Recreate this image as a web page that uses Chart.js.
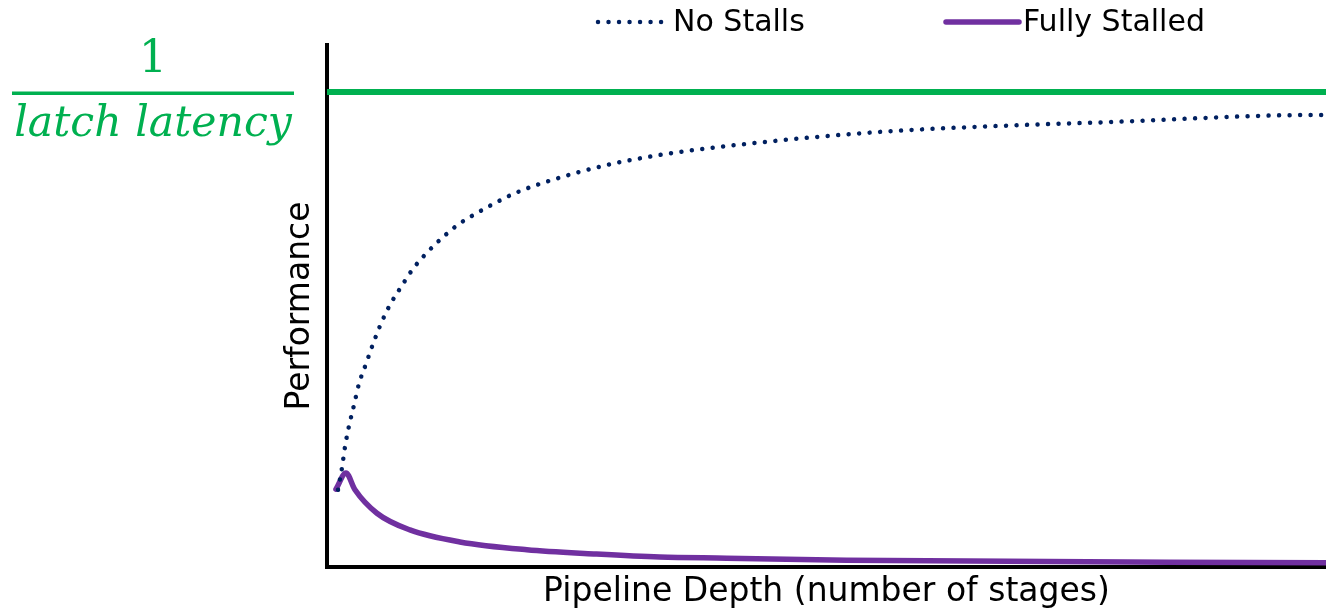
<!DOCTYPE html>
<html>
<head>
<meta charset="utf-8">
<script src="https://cdn.jsdelivr.net/npm/chart.js@4.4.1/dist/chart.umd.min.js"></script>
<style>
  html, body { margin: 0; padding: 0; background: #fff; }
  #wrap { width: 1326px; height: 616px; }
</style>
</head>
<body>
<div id="wrap"><canvas id="perfChart"></canvas></div>
<script>
// values (depth 0..100, performance 0..100)
const noStallDepth = [1.1, 1.5, 1.8, 2.2, 2.7, 3.2, 3.9, 4.6, 5.4, 6.3, 7.4, 8.6, 10.0, 11.5, 13.2, 15.0, 16.8, 18.8, 22.8, 28.0, 33.2, 38.5, 43.7, 49.1, 56.5, 67.3, 77.8, 99.1, 100];
const noStallPerf = [14.8, 19.0, 23.0, 27.0, 31.0, 35.1, 38.9, 42.7, 46.6, 50.2, 53.6, 57.1, 60.2, 63.0, 65.7, 67.8, 69.7, 71.6, 74.3, 77.0, 78.9, 80.3, 81.4, 82.4, 83.5, 84.5, 85.2, 86.6, 86.6];

const stalledDepth = [0.9, 1.9, 2.8, 5.0, 8.3, 13.3, 20.0, 26.7, 33.3, 40.0, 52.0, 100];
const stalledPerf = [14.9, 18.0, 14.8, 10.3, 7.1, 4.8, 3.3, 2.5, 1.9, 1.7, 1.3, 0.8];

const limitDepth = [0, 100];
const limitPerf = [91, 91];

const seriesNames = ['No Stalls', 'Fully Stalled'];

const toPoints = (xs, ys) => xs.map((x, i) => ({ x: x, y: ys[i] }));

const NAVY = '#002060';
const PURPLE = '#7030A0';
const GREEN = '#00B050';
const SANS = '"DejaVu Sans", sans-serif';

// shrink/grow a font so the text fills a given width
function fitFont(ctx, text, style, family, width) {
    ctx.font = style + ' 40px ' + family;
    const size = 40 * width / ctx.measureText(text).width;
    return style + ' ' + size.toFixed(1) + 'px ' + family;
}

// legend and the 1/latch latency label
const extras = {
    id: 'extras',
    afterDraw(chart) {
        const ctx = chart.ctx;
        ctx.save();

        // legend
        const y = 22;
        ctx.lineCap = 'round';
        ctx.strokeStyle = NAVY;
        ctx.lineWidth = 4.5;
        ctx.setLineDash([0.01, 10.5]);
        ctx.beginPath();
        ctx.moveTo(598, y);
        ctx.lineTo(664, y);
        ctx.stroke();
        ctx.setLineDash([]);
        ctx.strokeStyle = PURPLE;
        ctx.lineWidth = 5.5;
        ctx.beginPath();
        ctx.moveTo(946, y);
        ctx.lineTo(1019, y);
        ctx.stroke();

        ctx.fillStyle = '#000';
        ctx.textBaseline = 'middle';
        ctx.textAlign = 'left';
        ctx.font = fitFont(ctx, seriesNames[0], 'normal', SANS, 132);
        ctx.fillText(seriesNames[0], 673, y + 1);
        ctx.font = fitFont(ctx, seriesNames[1], 'normal', SANS, 182);
        ctx.fillText(seriesNames[1], 1023, y + 1);

        // fraction
        ctx.fillStyle = GREEN;
        ctx.textAlign = 'center';
        ctx.textBaseline = 'alphabetic';
        ctx.font = '44px "DejaVu Serif", serif';
        ctx.fillText('1', 153, 72);
        ctx.fillRect(12, 91.5, 282, 3.5);
        ctx.font = fitFont(ctx, 'latch latency', 'italic', '"DejaVu Serif", serif', 278);
        ctx.fillText('latch latency', 153, 136);

        ctx.restore();
    }
};

const ctx = document.getElementById('perfChart').getContext('2d');

const perfChart = new Chart(ctx, {
    type: 'line',
    data: {
        datasets: [{
            label: seriesNames[0],
            data: toPoints(noStallDepth, noStallPerf),
            borderColor: NAVY,
            borderWidth: 4.5,
            borderDash: [0.01, 10.5],
            borderCapStyle: 'round',
            pointRadius: 0,
            cubicInterpolationMode: 'monotone'
        }, {
            label: seriesNames[1],
            data: toPoints(stalledDepth, stalledPerf),
            borderColor: PURPLE,
            borderWidth: 5.5,
            borderCapStyle: 'round',
            borderJoinStyle: 'round',
            pointRadius: 0,
            cubicInterpolationMode: 'monotone'
        }, {
            label: 'limit',
            data: toPoints(limitDepth, limitPerf),
            borderColor: GREEN,
            borderWidth: 6,
            pointRadius: 0
        }]
    },
    options: {
        responsive: true,
        maintainAspectRatio: false,
        animation: false,
        layout: { padding: { top: 45, left: 276, right: 0, bottom: 3.4 } },
        plugins: {
            legend: { display: false },
            tooltip: { enabled: false }
        },
        scales: {
            x: {
                type: 'linear',
                min: 0,
                max: 100,
                grid: { display: false, drawTicks: false, tickLength: 0 },
                ticks: { display: false },
                border: { color: '#000', width: 4 },
                title: {
                    display: true,
                    text: 'Pipeline Depth (number of stages)',
                    color: '#000',
                    font: { family: SANS, size: 33 },
                    padding: { top: 6, bottom: 0 }
                }
            },
            y: {
                min: 0,
                max: 100,
                grid: { display: false, drawTicks: false, tickLength: 0 },
                ticks: { display: false },
                border: { color: '#000', width: 4 },
                title: {
                    display: true,
                    text: 'Performance',
                    color: '#000',
                    font: { family: SANS, size: 33 },
                    padding: { top: 4.2, bottom: 7.2 }
                }
            }
        }
    },
    plugins: [extras]
});
</script>
</body>
</html>
